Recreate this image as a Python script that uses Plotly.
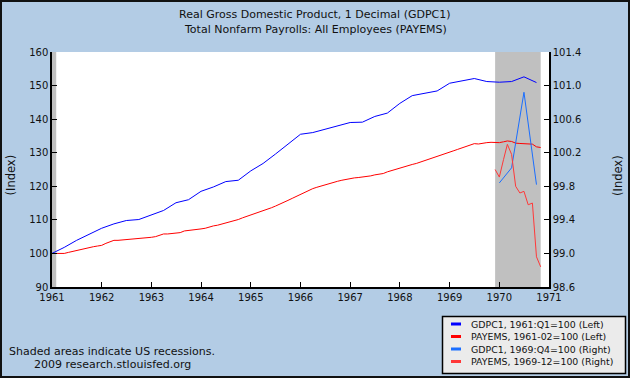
import pandas as pd
import plotly.graph_objects as go

# ---------------- data ----------------
gdp_left_start = "1961-01-01"   # quarterly, 1961:Q1 = 100 (left axis)
gdp_left = [
    100.0, 101.8, 103.9, 105.8,   # 1961
    107.5, 108.8, 109.8, 110.1,   # 1962
    111.5, 112.8, 115.1, 116.0,   # 1963
    118.5, 119.8, 121.4, 121.8,   # 1964
    124.6, 126.8, 129.6, 132.6,   # 1965
    135.5, 136.0, 137.0, 138.1,   # 1966
    139.0, 139.1, 140.8, 141.8,   # 1967
    144.7, 147.0, 147.8, 148.4,   # 1968
    150.7, 151.3, 152.1, 151.2,   # 1969
    151.0, 151.2, 152.6, 150.9,   # 1970
]

pay_left_start = "1961-02-01"   # monthly, 1961-02 = 100 (left axis)
pay_1961 = [100.0, 100.0, 100.0, 100.3, 100.6, 101.0, 101.2, 101.4, 101.7, 102.0, 102.2]
pay_1962 = [102.4, 103.0, 103.5, 103.9, 103.9, 104.0, 104.0, 104.1, 104.3, 104.4, 104.5, 104.7]
pay_1963 = [104.8, 105.0, 105.4, 105.8, 105.8, 105.9, 105.9, 106.2, 106.7, 106.9, 107.0, 107.2]
pay_1964 = [107.3, 107.5, 107.9, 108.2, 108.4, 108.7, 109.0, 109.3, 109.7, 110.1, 110.6, 111.0]
pay_1965 = [111.4, 111.8, 112.2, 112.6, 113.1, 113.6, 114.1, 114.6, 115.2, 115.8, 116.4, 117.0]
pay_1966 = [117.7, 118.2, 118.7, 119.3, 119.7, 120.1, 120.5, 120.8, 121.1, 121.5, 121.8, 122.1]
pay_1967 = [122.3, 122.5, 122.6, 122.7, 122.8, 123.1, 123.4, 123.6, 123.8, 124.3, 124.7, 125.0]
pay_1968 = [125.3, 125.8, 126.1, 126.5, 126.8, 127.2, 127.7, 128.0, 128.4, 128.8, 129.2, 129.7]
pay_1969 = [130.2, 130.6, 131.0, 131.4, 131.8, 132.2, 132.7, 132.6, 132.9, 133.0, 133.1, 133.1]
pay_1970 = [133.0, 133.25, 133.5, 133.35, 132.85, 132.75, 132.75, 132.55, 132.55, 131.75, 131.55]
pay_left = pay_1961 + pay_1962 + pay_1963 + pay_1964 + pay_1965 + pay_1966 + pay_1967 + pay_1968 + pay_1969 + pay_1970

gdp_right_start = "1970-01-01"  # quarterly, 1969:Q4 = 100 (right axis)
gdp_right = [99.84, 100.02, 100.92, 99.82]

pay_right_start = "1969-12-01"  # monthly, 1969-12 = 100 (right axis)
pay_right = [100.0, 99.91, 100.12, 100.30, 100.18, 99.80, 99.72, 99.74, 99.58, 99.60, 98.96, 98.84]

recessions = [("1960-04-01", "1961-02-01"), ("1969-12-01", "1970-11-01")]

year_ticks = ["1961", "1962", "1963", "1964", "1965", "1966", "1967", "1968", "1969", "1970", "1971"]
left_ticks = [90, 100, 110, 120, 130, 140, 150, 160]
grid_ticks = [100, 110, 120, 130, 140, 150]
right_ticks = [98.6, 99.0, 99.4, 99.8, 100.2, 100.6, 101.0, 101.4]

title_lines = ["Real Gross Domestic Product, 1 Decimal (GDPC1)",
               "Total Nonfarm Payrolls: All Employees (PAYEMS)"]
legend_labels = ["GDPC1, 1961:Q1=100 (Left)", "PAYEMS, 1961-02=100 (Left)",
                 "GDPC1, 1969:Q4=100 (Right)", "PAYEMS, 1969-12=100 (Right)"]
footer_lines = ["Shaded areas indicate US recessions.", "2009 research.stlouisfed.org"]

# ---------------- styling ----------------
W, H = 630, 378
ML, MR, MT, MB = 52, 81, 52, 91
PW, PH = W - ML - MR, H - MT - MB
BG = "#B3CCE5"
FONT = "DejaVu Sans"
colors = ["#0000FF", "#FF0000", "#1A6EFF", "#FF3838"]


def PX(x):
    return (x - ML) / PW


def PY(y):
    return (H - MB - y) / PH


dates_gl = pd.date_range(gdp_left_start, periods=len(gdp_left), freq="QS")
dates_pl = pd.date_range(pay_left_start, periods=len(pay_left), freq="MS")
dates_gr = pd.date_range(gdp_right_start, periods=len(gdp_right), freq="QS")
dates_pr = pd.date_range(pay_right_start, periods=len(pay_right), freq="MS")

fig = go.Figure()
fig.add_trace(go.Scatter(x=dates_gl, y=gdp_left, mode="lines", line=dict(color=colors[0], width=1), yaxis="y"))
fig.add_trace(go.Scatter(x=dates_pl, y=pay_left, mode="lines", line=dict(color=colors[1], width=1), yaxis="y"))
fig.add_trace(go.Scatter(x=dates_gr, y=gdp_right, mode="lines", line=dict(color=colors[2], width=1), yaxis="y2"))
fig.add_trace(go.Scatter(x=dates_pr, y=pay_right, mode="lines", line=dict(color=colors[3], width=1), yaxis="y2"))

shapes = []
for a, b in recessions:
    shapes.append(dict(type="rect", xref="x", yref="paper", x0=a, x1=b, y0=0, y1=1,
                       fillcolor="#C0C0C0", line=dict(width=0), layer="between"))

# legend box and samples
shapes.append(dict(type="rect", xref="paper", yref="paper", x0=PX(442.5), x1=PX(625.5),
                   y0=PY(373.5), y1=PY(316.5), fillcolor="#EBEBEB", line=dict(color="black", width=1.5)))
rows_y = [324, 336.5, 349, 361.5]
annotations = []
for lab, col, ry in zip(legend_labels, colors, rows_y):
    shapes.append(dict(type="line", xref="paper", yref="paper", x0=PX(451), x1=PX(461),
                       y0=PY(ry), y1=PY(ry), line=dict(color=col, width=3)))
    annotations.append(dict(text=lab, xref="paper", yref="paper", x=PX(469), y=PY(ry),
                            xanchor="left", yanchor="middle", showarrow=False,
                            font=dict(family=FONT, size=9.4, color="#111")))

# outer frame
shapes.append(dict(type="rect", xref="paper", yref="paper", x0=PX(1), x1=PX(629), y0=PY(377), y1=PY(1),
                   line=dict(color="#111", width=2), fillcolor="rgba(0,0,0,0)"))

for t, ty in zip(title_lines, [14, 29.5]):
    annotations.append(dict(text=t, xref="paper", yref="paper", x=PX(315), y=PY(ty),
                            xanchor="center", yanchor="middle", showarrow=False,
                            font=dict(family=FONT, size=11, color="#111")))
for t, tx, ty in zip(footer_lines, [7, 32], [351, 364.5]):
    annotations.append(dict(text=t, xref="paper", yref="paper", x=PX(tx), y=PY(ty),
                            xanchor="left", yanchor="middle", showarrow=False,
                            font=dict(family=FONT, size=11, color="#111")))
for tx, ty in [(10.5, 175), (618, 176)]:
    annotations.append(dict(text="(Index)", xref="paper", yref="paper", x=PX(tx), y=PY(ty),
                            xanchor="center", yanchor="middle", showarrow=False, textangle=-90,
                            font=dict(family=FONT, size=11.5, color="#111")))

fig.update_layout(
    width=W, height=H, autosize=False,
    margin=dict(l=ML, r=MR, t=MT, b=MB, pad=0),
    paper_bgcolor=BG, plot_bgcolor="white",
    showlegend=False,
    font=dict(family=FONT, size=10, color="#111"),
    xaxis=dict(type="date", range=["1961-01-01", "1971-01-01"],
               tickvals=[f"{y}-01-01" for y in year_ticks], ticktext=year_ticks,
               ticks="inside", ticklen=5, tickcolor="black", tickwidth=1,
               showline=True, linecolor="black", linewidth=1.5, showgrid=False, zeroline=False,
               tickfont=dict(size=10)),
    yaxis=dict(range=[90, 160], tickvals=left_ticks, ticks="inside", ticklen=5,
               tickcolor="black", showline=True, linecolor="black", linewidth=1.5,
               showgrid=False, zeroline=False, tickfont=dict(size=10)),
    yaxis2=dict(range=[98.6, 101.4], tickvals=right_ticks, tickformat=".1f",
                overlaying="y", side="right", ticks="inside", ticklen=5, tickcolor="black",
                showline=True, linecolor="black", linewidth=1.5, showgrid=False, zeroline=False,
                tickfont=dict(size=10)),
    yaxis3=dict(range=[90, 160], tickvals=grid_ticks, overlaying="y", side="left",
                showgrid=True, gridcolor="#AAAAAA", gridwidth=1, showticklabels=False,
                ticks="", showline=False, zeroline=False),
    shapes=shapes,
    annotations=annotations,
)

fig.write_html("out.html", config={"displayModeBar": False},
               post_script="document.body.style.margin='0';document.body.style.overflow='hidden';")
